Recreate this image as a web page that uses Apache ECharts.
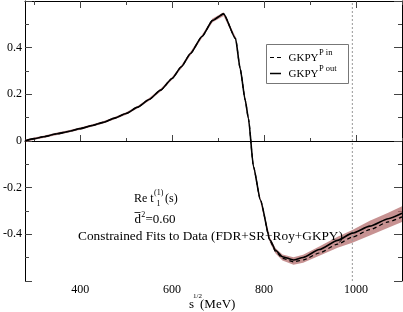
<!DOCTYPE html>
<html>
<head>
<meta charset="utf-8">
<script src="https://cdn.jsdelivr.net/npm/echarts@6/dist/echarts.min.js"></script>
<style>html,body{margin:0;padding:0;background:#fff}#chart{width:403px;height:312px}</style>
</head>
<body>
<div id="chart"></div>
<script>
// Energies sqrt(s) in MeV
var energies = [280, 300, 320, 350, 375, 400, 425, 450, 475, 500, 525, 550, 575, 600, 620, 640, 665, 688, 712, 738, 748, 759, 766, 777, 792, 813, 825, 840, 864, 885, 920, 960, 992, 1030, 1070, 1100];
// GKPY P out (solid)
var pOut = [0.000, 0.010, 0.018, 0.031, 0.041, 0.053, 0.066, 0.080, 0.098, 0.118, 0.145, 0.178, 0.218, 0.268, 0.318, 0.375, 0.448, 0.517, 0.545, 0.439, 0.310, 0.175, 0.096, -0.111, -0.253, -0.425, -0.468, -0.496, -0.510, -0.499, -0.465, -0.426, -0.395, -0.365, -0.333, -0.310];
// GKPY P in (dashed)
var pIn = [0.000, 0.010, 0.018, 0.031, 0.041, 0.053, 0.066, 0.080, 0.098, 0.118, 0.145, 0.178, 0.218, 0.268, 0.318, 0.375, 0.448, 0.517, 0.545, 0.439, 0.310, 0.175, 0.096, -0.111, -0.253, -0.428, -0.474, -0.503, -0.518, -0.510, -0.480, -0.442, -0.412, -0.380, -0.347, -0.325];
// Error band
var bandLow = [-0.005, 0.005, 0.013, 0.026, 0.036, 0.048, 0.061, 0.075, 0.093, 0.113, 0.140, 0.172, 0.212, 0.262, 0.311, 0.368, 0.441, 0.509, 0.536, 0.431, 0.302, 0.167, 0.088, -0.119, -0.262, -0.437, -0.482, -0.512, -0.530, -0.522, -0.492, -0.458, -0.436, -0.405, -0.372, -0.347];
var bandHigh = [0.005, 0.015, 0.023, 0.036, 0.046, 0.058, 0.071, 0.085, 0.103, 0.123, 0.150, 0.184, 0.224, 0.274, 0.325, 0.382, 0.455, 0.525, 0.552, 0.447, 0.318, 0.183, 0.104, -0.103, -0.244, -0.415, -0.460, -0.486, -0.498, -0.488, -0.452, -0.410, -0.381, -0.342, -0.308, -0.280];
// Threshold line
var thresholdX = 992;
var xMajorTicks = [400, 600, 800, 1000];
var xMinorTicks = [300, 500, 700, 900, 1100];
var legendLabels = [['GKPY', 'P in'], ['GKPY', 'P out']];

var FONT = 'Liberation Serif';
function pairs(ys) { return energies.map(function (e, i) { return [e, ys[i]]; }); }
var bandData = energies.map(function (e, i) { return [e, bandLow[i], bandHigh[i]]; });

var chart = echarts.init(document.getElementById('chart'), null, { renderer: 'canvas' });
function xAx(pos, ticks, len, labels, line) {
  return {
    type: 'value', position: pos, min: 280, max: 1100, gridIndex: 0,
    axisLine: { show: line, lineStyle: { color: '#000', width: 1 } },
    axisTick: { show: true, inside: true, length: len, customValues: ticks, lineStyle: { color: '#444' } },
    axisLabel: labels ? { show: true, customValues: ticks, color: '#000', fontFamily: FONT, fontSize: 12, margin: 3,
      formatter: function (v) { return String(v); } } : { show: false },
    splitLine: { show: false }
  };
}
function yAx(pos, labels, len) {
  return {
    type: 'value', position: pos, min: -0.6, max: 0.6, interval: 0.2,
    axisLine: { show: true, lineStyle: { color: '#000', width: 1 } },
    axisTick: { show: true, inside: true, length: len, lineStyle: { color: '#444' } },
    minorTick: { show: true, splitNumber: 2, length: Math.round(len * 0.55), lineStyle: { color: '#444' } },
    axisLabel: labels ? { show: true, showMinLabel: false, showMaxLabel: false, color: '#000', fontFamily: FONT, fontSize: 12, margin: 3,
      formatter: function (v) { return String(Math.round(v * 10) / 10); } } : { show: false },
    splitLine: { show: false }, minorSplitLine: { show: false }
  };
}
function txt(x, y, s, size, align) {
  return { type: 'text', x: x, y: y, z: 10, style: { text: s, font: size + 'px "' + FONT + '"', fill: '#000', align: align || 'left', verticalAlign: 'middle' } };
}

var option = {
  animation: false,
  backgroundColor: '#fff',
  grid: { left: 23, right: 1, top: 1, bottom: 31, containLabel: false },
  xAxis: [
    xAx('bottom', xMajorTicks, 6, true, true),
    xAx('bottom', xMinorTicks, 3, false, false),
    xAx('top', xMajorTicks, 7, false, true),
    xAx('top', xMinorTicks, 4, false, false)
  ],
  yAxis: [yAx('left', true, 7), yAx('right', false, 8)],
  series: [
    { type: 'custom', name: 'band', data: bandData, encode: { x: 0, y: [1, 2] }, clip: true, silent: true,
      renderItem: function (params, api) {
        if (params.dataIndex !== 0) return null;
        var up = [], lo = [];
        for (var i = 0; i < bandData.length; i++) {
          up.push(api.coord([bandData[i][0], bandData[i][2]]));
          lo.push(api.coord([bandData[i][0], bandData[i][1]]));
        }
        return { type: 'polygon', shape: { points: up.concat(lo.reverse()) }, style: { fill: 'rgba(180,110,110,0.75)', stroke: null } };
      } },
    { type: 'line', name: 'threshold', data: [[thresholdX, -0.6], [thresholdX, 0.6]], symbol: 'none',
      lineStyle: { color: '#999', width: 1, type: [2, 2] } },
    { type: 'line', name: 'GKPY P in', data: pairs(pIn), symbol: 'none', smooth: 0.2, smoothMonotone: 'x',
      lineStyle: { color: '#000', width: 1.2, type: [4, 3] } },
    { type: 'line', name: 'GKPY P out', data: pairs(pOut), symbol: 'none', smooth: 0.2, smoothMonotone: 'x',
      lineStyle: { color: '#000', width: 1.6 } }
  ],
  graphic: [
    // legend box
    { type: 'rect', shape: { x: 266.5, y: 44.5, width: 82, height: 39 }, z: 9, style: { fill: '#fff', stroke: '#777', lineWidth: 1 } },
    { type: 'line', shape: { x1: 270, y1: 57.5, x2: 281, y2: 57.5 }, z: 10, style: { stroke: '#000', lineWidth: 1.2, lineDash: [4, 3] } },
    { type: 'line', shape: { x1: 270, y1: 73.5, x2: 281, y2: 73.5 }, z: 10, style: { stroke: '#000', lineWidth: 1.5 } },
    txt(288.5, 58, legendLabels[0][0], 11), txt(319, 53, legendLabels[0][1], 8.5),
    txt(288.5, 74, legendLabels[1][0], 11), txt(319, 69, legendLabels[1][1], 8.5),
    // annotations
    txt(134, 199, 'Re t', 12),
    txt(154, 193, '(1)', 8),
    txt(156.5, 204, '1', 8),
    txt(165, 199, '(s)', 12),
    txt(134.5, 220, 'd', 13),
    { type: 'line', shape: { x1: 134.5, y1: 212.5, x2: 140.5, y2: 212.5 }, z: 10, style: { stroke: '#000', lineWidth: 0.8 } },
    txt(141.2, 215, '2', 8),
    txt(145.5, 220, '=0.60', 13),
    txt(210.5, 236.5, 'Constrained Fits to Data (FDR+SR+Roy+GKPY)', 13.3, 'center'),
    // x axis title
    txt(189, 305, 's', 13),
    txt(193, 296, '1/2', 7),
    txt(200, 305, '(MeV)', 13)
  ]
};
chart.setOption(option);
</script>
</body>
</html>
